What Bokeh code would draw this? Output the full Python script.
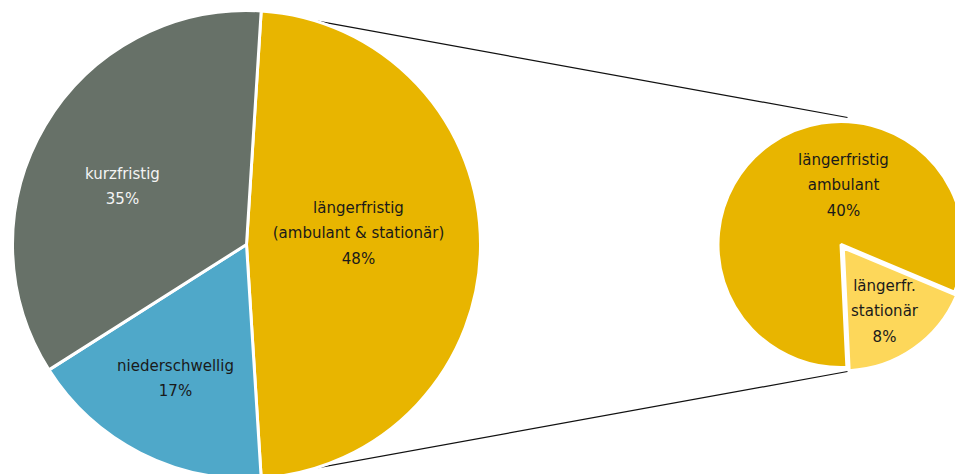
import math
from bokeh.plotting import figure
from bokeh.models import Range1d, ColumnDataSource
from bokeh.core.properties import value
from bokeh.embed import file_html
from bokeh.resources import INLINE

# ---- data ----
main_labels = ["längerfristig\n(ambulant & stationär)", "niederschwellig", "kurzfristig"]
main_values = [48, 17, 35]
main_pct = ["48%", "17%", "35%"]
main_colors = ["#e8b500", "#4fa8c9", "#677168"]
main_text_colors = ["#1a1a1a", "#1a1a1a", "#f4f4f4"]

sub_labels = ["längerfristig\nambulant", "längerfr.\nstationär"]
sub_values = [39.4, 8.6]          # slice sizes as drawn
sub_pct = ["40%", "8%"]           # printed labels
sub_colors = ["#e8b500", "#fdd75a"]

# ---- geometry (pixel space, y measured from top) ----
W, H = 955, 474
MAIN_C = (246, 244)
MAIN_R = 234
SUB_C = (840.5, 244)
SUB_R = 123
SUB_STATIONAER_MID = 145.0   # clockwise-from-top angle of the small wedge centre
EXPLODE = 4

def to_bokeh(cw_deg):
    return math.radians(90 - cw_deg)

def py(y):
    return H - y

p = figure(width=W, height=H, x_range=Range1d(0, W), y_range=Range1d(0, H),
           output_backend="svg", toolbar_location=None, min_border=0)
p.axis.visible = False
p.grid.visible = False
p.outline_line_color = None
p.background_fill_color = "white"
p.border_fill_color = "white"

# main pie: first slice centred at 3 o'clock
total = sum(main_values)
start = 90 - main_values[0] / total * 360 / 2
m_start, m_end = [], []
for v in main_values:
    span = v / total * 360
    m_start.append(start)
    m_end.append(start + span)
    start += span

# small pie
stotal = sum(sub_values)
st_span = sub_values[1] / stotal * 360
st_start = SUB_STATIONAER_MID - st_span / 2
s_start = [st_start + st_span, st_start]
s_end = [st_start + 360, st_start + st_span]

# connector lines (behind the pies)
top_main = (MAIN_C[0] + MAIN_R * math.sin(math.radians(m_start[0])),
            MAIN_C[1] - MAIN_R * math.cos(math.radians(m_start[0])))
bot_main = (MAIN_C[0] + MAIN_R * math.sin(math.radians(m_end[0])),
            MAIN_C[1] - MAIN_R * math.cos(math.radians(m_end[0])))
reach = SUB_R + 4
top_sub = (SUB_C[0] + 6.5, SUB_C[1] - reach)
bot_sub = (SUB_C[0] + 6.5, SUB_C[1] + reach)
p.segment(x0=[top_main[0], bot_main[0]], y0=[py(top_main[1]), py(bot_main[1])],
          x1=[top_sub[0], bot_sub[0]], y1=[py(top_sub[1]), py(bot_sub[1])],
          line_color="#111111", line_width=1.2)

# main wedges
src = ColumnDataSource(dict(
    x=[MAIN_C[0]] * 3, y=[py(MAIN_C[1])] * 3,
    sa=[to_bokeh(a) for a in m_start], ea=[to_bokeh(a) for a in m_end],
    color=main_colors))
p.wedge(x="x", y="y", radius=MAIN_R, start_angle="sa", end_angle="ea",
        direction="clock", fill_color="color", line_color="white", line_width=3, source=src)

# small wedges (stationär exploded)
cx = [SUB_C[0], SUB_C[0] + EXPLODE * math.sin(math.radians(SUB_STATIONAER_MID))]
cy = [py(SUB_C[1]), py(SUB_C[1] - EXPLODE * math.cos(math.radians(SUB_STATIONAER_MID)))]
ssrc = ColumnDataSource(dict(
    x=cx, y=cy,
    sa=[to_bokeh(a) for a in s_start], ea=[to_bokeh(a) for a in s_end],
    color=sub_colors))
p.wedge(x="x", y="y", radius=SUB_R, start_angle="sa", end_angle="ea",
        direction="clock", fill_color="color", line_color="white", line_width=3, source=ssrc)

# labels
LH = 1.39
main_label_pos = [(358, 233), (175, 378), (122, 186)]
main_texts = [f"{l}\n{v}" for l, v in zip(main_labels, main_pct)]
p.text(x=[q[0] for q in main_label_pos], y=[py(q[1]) for q in main_label_pos],
       text=main_texts, text_color=main_text_colors,
       text_align="center", text_baseline="middle",
       text_font=value("DejaVu Sans"), text_font_size="15px", text_line_height=LH)

sub_label_pos = [(843, 185), (884, 311)]
sub_texts = [f"{l}\n{v}" for l, v in zip(sub_labels, sub_pct)]
p.text(x=[q[0] for q in sub_label_pos], y=[py(q[1]) for q in sub_label_pos],
       text=sub_texts, text_color="#1a1a1a",
       text_align="center", text_baseline="middle",
       text_font=value("DejaVu Sans"), text_font_size="15px", text_line_height=LH)

open("out.html", "w").write(file_html(p, INLINE))
